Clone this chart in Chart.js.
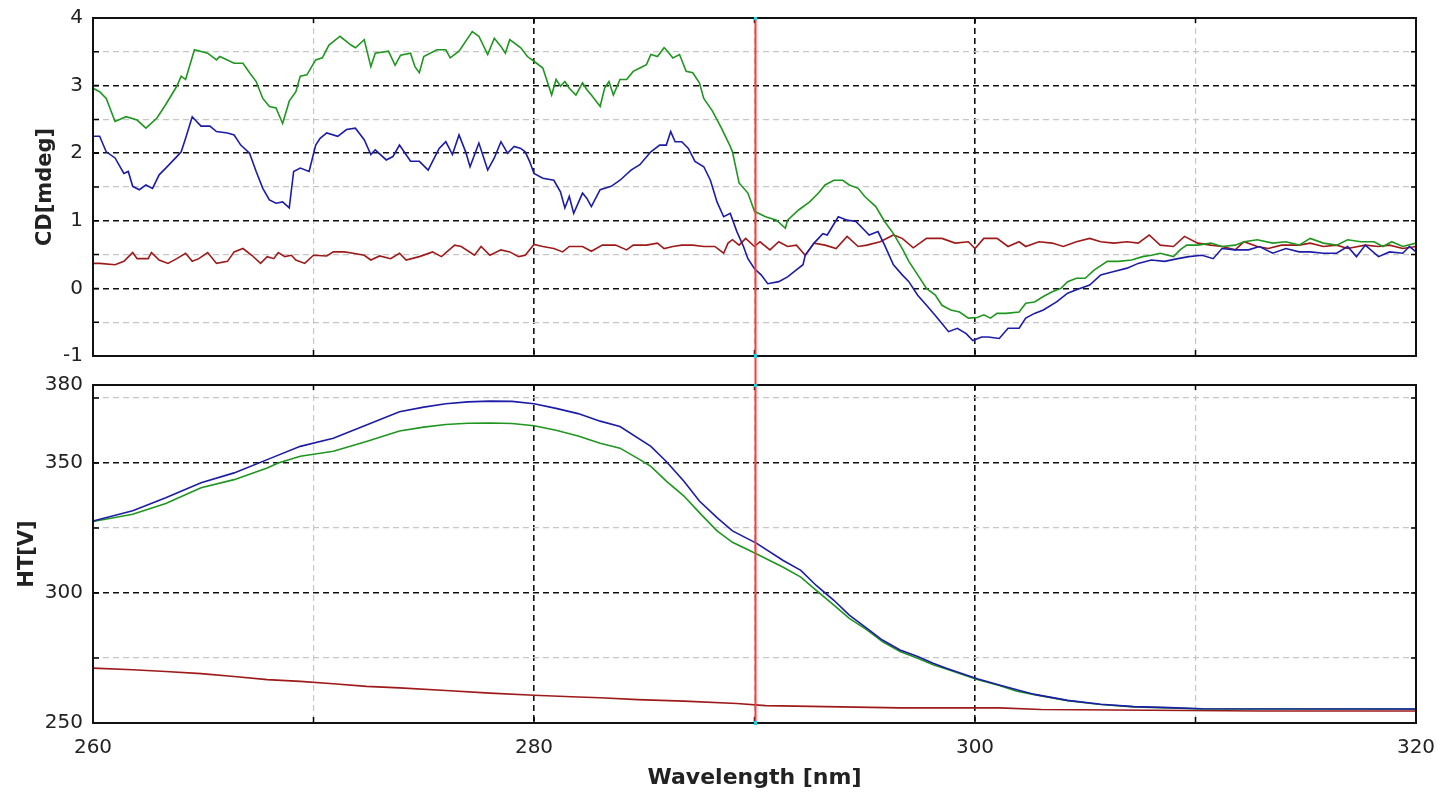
<!DOCTYPE html>
<html><head><meta charset="utf-8">
<script src="https://cdn.jsdelivr.net/npm/chart.js@4.4.1/dist/chart.umd.min.js"></script>
<style>
html,body{margin:0;padding:0;background:#fff;width:1438px;height:796px;overflow:hidden}
#wrapTop{position:absolute;left:0;top:0;width:1438px;height:370px}
#wrapBot{position:absolute;left:0;top:370px;width:1438px;height:426px}
</style></head><body>
<div id="wrapTop"><canvas id="cd"></canvas></div>
<div id="wrapBot"><canvas id="ht"></canvas></div>
<script>
// ---------- axis ticks ----------
const xTicks = [260,270,280,290,300,310,320];
const xLabels = [260,280,300,320];
const cdTicks = [-1,-0.5,0,0.5,1,1.5,2,2.5,3,3.5,4];
const cdLabels = [-1,0,1,2,3,4];
const htTicks = [250,275,300,325,350,375,380];
const htLabels = [250,300,350,380];
const cursorNm = 290;

// ---------- CD [mdeg] ----------
const cdGreenNm = [260.0,260.3,260.6,261.0,261.5,262.0,262.4,262.9,263.3,263.8,264.0,264.2,264.6,265.2,265.6,265.75,266.4,266.8,267.1,267.4,267.7,268.0,268.3,268.6,268.9,269.2,269.4,269.7,270.1,270.4,270.7,270.9,271.2,271.7,271.9,272.3,272.6,272.8,273.4,273.7,273.95,274.4,274.6,274.8,275.0,275.6,276.0,276.2,276.6,277.2,277.5,277.9,278.2,278.5,278.7,278.9,279.4,279.7,280.0,280.4,280.6,280.8,281.0,281.2,281.4,281.6,281.9,282.2,282.4,282.6,283.0,283.2,283.4,283.6,283.9,284.2,284.5,284.8,285.1,285.3,285.6,285.9,286.0,286.3,286.6,286.9,287.2,287.5,287.7,288.1,288.5,288.9,289.0,289.3,289.7,290.0,290.5,291.0,291.4,291.5,292.0,292.5,292.9,293.2,293.6,294.0,294.3,294.7,295.0,295.5,295.9,296.3,296.7,297.0,297.4,297.8,298.2,298.5,298.9,299.3,299.7,300.1,300.4,300.7,301.0,301.4,302.0,302.3,302.7,303.1,303.5,303.9,304.2,304.6,305.0,305.4,306.0,306.5,307.1,307.6,308.0,308.4,309.0,309.3,309.6,310.1,310.7,311.2,311.8,312.2,312.8,313.5,314.1,314.7,315.2,315.8,316.4,316.9,317.5,318.1,318.5,318.9,319.4,320.0];
const cdGreen = [2.96,2.91,2.81,2.47,2.54,2.49,2.37,2.52,2.72,2.99,3.14,3.09,3.53,3.48,3.38,3.43,3.33,3.33,3.19,3.06,2.81,2.69,2.67,2.44,2.77,2.91,3.14,3.16,3.38,3.41,3.60,3.65,3.73,3.60,3.56,3.68,3.28,3.48,3.51,3.30,3.45,3.48,3.28,3.19,3.43,3.53,3.53,3.41,3.51,3.80,3.73,3.46,3.70,3.58,3.48,3.68,3.56,3.43,3.36,3.26,3.06,2.86,3.09,2.99,3.06,2.96,2.86,3.04,2.94,2.86,2.69,2.96,3.06,2.86,3.09,3.09,3.21,3.26,3.31,3.46,3.43,3.56,3.53,3.41,3.46,3.21,3.19,3.04,2.81,2.62,2.37,2.10,2.02,1.56,1.41,1.14,1.06,1.01,0.89,1.01,1.16,1.28,1.41,1.53,1.60,1.60,1.53,1.48,1.36,1.21,0.99,0.81,0.59,0.40,0.20,0.00,-0.10,-0.25,-0.32,-0.35,-0.44,-0.43,-0.39,-0.44,-0.37,-0.37,-0.35,-0.22,-0.20,-0.12,-0.05,0.00,0.10,0.15,0.15,0.27,0.40,0.40,0.42,0.47,0.49,0.52,0.47,0.57,0.64,0.64,0.67,0.62,0.64,0.69,0.72,0.67,0.69,0.64,0.74,0.67,0.64,0.72,0.69,0.69,0.62,0.69,0.62,0.67];

const cdBlueNm = [260.0,260.3,260.6,261.0,261.4,261.6,261.8,262.1,262.4,262.7,263.0,263.3,263.8,264.0,264.2,264.5,264.7,264.9,265.3,265.6,266.1,266.4,266.7,267.1,267.4,267.7,268.0,268.3,268.6,268.9,269.1,269.4,269.8,270.1,270.3,270.6,271.1,271.5,271.9,272.3,272.6,272.8,273.3,273.6,273.9,274.4,274.8,275.2,275.4,275.7,276.0,276.3,276.6,276.9,277.1,277.5,277.9,278.2,278.5,278.8,279.1,279.4,279.6,279.8,280.0,280.4,280.9,281.2,281.4,281.6,281.8,282.2,282.4,282.6,283.0,283.5,283.9,284.4,284.8,285.3,285.7,286.0,286.2,286.4,286.7,287.0,287.3,287.7,288.0,288.3,288.6,288.9,289.2,289.5,289.7,290.0,290.3,290.6,291.1,291.5,292.0,292.2,292.3,292.7,293.1,293.3,293.8,294.2,294.6,294.9,295.2,295.6,295.9,296.3,296.7,297.0,297.4,297.8,298.2,298.5,298.8,299.2,299.6,299.9,300.3,300.6,301.1,301.5,302.0,302.3,302.7,303.1,303.7,304.2,304.6,305.2,305.7,306.3,306.9,307.4,308.0,308.6,309.2,309.7,310.3,310.8,311.2,311.8,312.4,312.9,313.5,314.1,314.7,315.2,315.8,316.4,316.9,317.3,317.7,318.3,318.8,319.4,319.7,320.0];
const cdBlue = [2.25,2.25,2.02,1.93,1.70,1.73,1.51,1.46,1.53,1.48,1.68,1.78,1.95,2.02,2.22,2.54,2.47,2.40,2.40,2.32,2.30,2.27,2.12,2.00,1.73,1.48,1.31,1.26,1.28,1.19,1.73,1.78,1.73,2.12,2.22,2.30,2.25,2.35,2.37,2.20,1.98,2.05,1.90,1.95,2.12,1.88,1.88,1.75,1.88,2.07,2.17,1.98,2.27,2.02,1.80,2.15,1.75,1.93,2.17,2.00,2.10,2.07,2.02,1.88,1.70,1.63,1.60,1.43,1.19,1.36,1.11,1.41,1.33,1.21,1.46,1.51,1.60,1.75,1.83,2.02,2.12,2.12,2.32,2.17,2.17,2.07,1.88,1.80,1.60,1.28,1.06,1.11,0.84,0.62,0.44,0.29,0.20,0.07,0.10,0.17,0.30,0.35,0.49,0.67,0.81,0.79,1.06,1.01,0.99,0.89,0.79,0.84,0.64,0.35,0.20,0.10,-0.10,-0.25,-0.40,-0.52,-0.64,-0.59,-0.67,-0.77,-0.72,-0.72,-0.74,-0.59,-0.59,-0.44,-0.37,-0.32,-0.20,-0.07,-0.02,0.05,0.20,0.25,0.30,0.37,0.42,0.40,0.44,0.47,0.49,0.44,0.59,0.57,0.57,0.62,0.52,0.59,0.54,0.54,0.52,0.52,0.62,0.47,0.64,0.47,0.54,0.52,0.62,0.54];

const cdRedNm = [260.0,260.3,261.0,261.4,261.8,262.0,262.5,262.65,263.0,263.4,263.8,264.2,264.5,264.8,265.2,265.6,266.1,266.4,266.8,267.2,267.6,267.9,268.2,268.4,268.7,269.0,269.2,269.6,270.0,270.6,270.9,271.4,271.8,272.3,272.6,273.0,273.5,273.9,274.2,274.8,275.4,275.8,276.4,276.7,277.3,277.6,278.0,278.5,278.9,279.3,279.6,280.0,280.4,280.9,281.3,281.6,282.2,282.6,283.1,283.7,284.2,284.5,285.1,285.6,285.9,286.3,286.7,287.2,287.7,288.2,288.6,288.8,289.0,289.3,289.6,290.0,290.25,290.7,291.1,291.5,291.9,292.3,292.7,293.2,293.7,294.2,294.7,295.1,295.7,296.3,296.7,297.2,297.8,298.5,299.1,299.7,300.0,300.4,301.0,301.5,302.0,302.3,302.9,303.5,304.0,304.6,305.2,305.7,306.3,306.9,307.4,307.9,308.4,309.0,309.5,310.1,310.7,311.2,311.8,312.2,312.8,313.3,313.9,314.7,315.2,315.8,316.4,316.9,317.7,318.3,318.8,319.4,320.0];
const cdRed = [0.37,0.37,0.35,0.40,0.53,0.44,0.44,0.53,0.42,0.37,0.44,0.52,0.40,0.44,0.53,0.37,0.40,0.54,0.59,0.49,0.37,0.47,0.44,0.53,0.47,0.49,0.42,0.37,0.49,0.48,0.54,0.54,0.52,0.49,0.42,0.48,0.44,0.52,0.42,0.47,0.54,0.47,0.64,0.62,0.49,0.62,0.49,0.57,0.54,0.47,0.49,0.65,0.62,0.59,0.54,0.62,0.62,0.55,0.64,0.64,0.57,0.64,0.64,0.67,0.59,0.62,0.64,0.64,0.62,0.62,0.52,0.67,0.72,0.64,0.74,0.62,0.69,0.57,0.69,0.62,0.64,0.49,0.67,0.64,0.59,0.77,0.62,0.64,0.69,0.79,0.74,0.60,0.74,0.74,0.67,0.69,0.59,0.74,0.74,0.62,0.69,0.62,0.69,0.67,0.62,0.69,0.74,0.69,0.67,0.69,0.67,0.79,0.64,0.62,0.77,0.67,0.64,0.62,0.57,0.69,0.62,0.59,0.64,0.64,0.67,0.62,0.64,0.59,0.64,0.62,0.64,0.59,0.62];

// ---------- HT [V] ----------
const htBlueNm = [260,261.8,263.3,264.9,266.4,267.9,269.4,270.9,272.4,273.9,275,276,277,278,279,280,281,282,283,283.9,285.3,286.0,286.8,287.5,288.3,289.0,290.1,291.3,292.1,292.8,293.6,294.3,295.1,295.8,296.6,297.4,298.1,298.7,300.1,301.1,302.7,304.2,305.7,307.2,308.8,310.3,320];
const htBlue = [327.7,331.6,336.6,342.4,346.2,351.3,356.4,359.5,364.6,369.7,371.5,372.8,373.5,373.8,373.7,372.8,371.0,369.0,366.1,364.0,356.4,350.6,343.0,335.4,329.0,323.9,319.1,312.5,308.7,302.9,297.2,291.5,286.4,281.9,278.1,275.6,273.0,271.1,267.0,264.6,261.0,258.7,257.2,256.3,255.9,255.5,255.4];
const htGreenNm = [260,261.8,263.3,264.9,266.4,267.9,268.4,269.4,270.9,272.4,273.9,275,276,277,278,279,280,281,282,283,283.9,284.8,285.3,286.0,286.8,287.5,288.3,289.0,290.1,291.3,292.1,292.8,293.6,294.3,295.1,295.8,296.6,297.4,298.1,298.8,300.1,301.1,301.9,302.7,304.2,305.7,307.2,308.8,310.3,320];
const htGreen = [327.5,330.3,334.4,340.5,343.6,348.1,350.0,352.6,354.5,358.3,362.3,363.8,364.8,365.3,365.4,365.2,364.3,362.6,360.4,357.6,355.7,351.3,348.7,343.0,337.3,330.9,323.9,319.5,315.0,309.9,306.1,301.0,295.3,290.2,285.8,281.3,277.5,274.9,272.4,270.5,266.7,264.4,262.2,260.9,258.6,257.1,256.2,255.8,255.4,255.4];
const htRedNm = [260,261.8,263.3,264.9,266.4,267.9,269.4,270.9,272.4,273.9,276,278,280,282,283,284.7,286.8,289.2,290.5,296.6,301.1,303,313,320];
const htRed = [271.1,270.5,269.8,269.0,267.9,266.7,266.0,265.1,264.1,263.5,262.5,261.5,260.7,260.0,259.7,259.0,258.4,257.5,256.7,255.8,255.8,255.2,254.6,254.6];

// ---------- styling ----------
const COL_GREEN = '#1f961f', COL_BLUE = '#1c1ca6', COL_RED = '#9e1a1a';
const TICK_FONT = {family:'DejaVu Sans', size:20};
const TITLE_FONT = {family:'DejaVu Sans', size:21, weight:'bold'};

function pts(xs, ys){ return xs.map((x,i)=>({x:x, y:ys[i]})); }
function ds(label, xs, ys, color){
  return {label, data: pts(xs,ys), borderColor: color, borderWidth: 1.6, pointRadius: 0, tension: 0, fill:false};
}
function gridColor(majorTest){
  return ctx => (ctx.tick && majorTest(ctx.tick.value)) ? '#111' : '#c6c6c6';
}
function gridWidth(majorTest){
  return ctx => (ctx.tick && majorTest(ctx.tick.value)) ? 1.6 : 1.2;
}
const isMajorX = v => Math.abs(v % 20) < 1e-6;
const isInt = v => Math.abs(v - Math.round(v)) < 1e-6;
const isMajorHT = v => v === 300 || v === 350;
function noPad(s){ s.paddingTop = 0; s.paddingBottom = 0; s.paddingLeft = 0; s.paddingRight = 0; }

function framePlugin(cursorTop, cursorBottom){
  return {
    id: 'frame',
    afterDatasetsDraw(chart){
      const {ctx, chartArea:a} = chart;
      const xs = chart.scales.x, ys = chart.scales.y;
      ctx.save();
      // inner tick marks
      ctx.strokeStyle = '#000'; ctx.lineWidth = 1.5;
      ctx.beginPath();
      xs.ticks.forEach(t => {
        const px = xs.getPixelForValue(t.value);
        ctx.moveTo(px, a.bottom); ctx.lineTo(px, a.bottom - 6);
        ctx.moveTo(px, a.top); ctx.lineTo(px, a.top + 5);
      });
      ys.ticks.forEach(t => {
        const py = ys.getPixelForValue(t.value);
        ctx.moveTo(a.left, py); ctx.lineTo(a.left + 6, py);
        ctx.moveTo(a.right, py); ctx.lineTo(a.right - 5, py);
      });
      ctx.stroke();
      // frame
      ctx.strokeStyle = '#111'; ctx.lineWidth = 2;
      ctx.strokeRect(a.left, a.top, a.right - a.left, a.bottom - a.top);
      // cursor line
      const cx = Math.round(xs.getPixelForValue(cursorNm)) + 0.5;
      const y0 = cursorTop === 'area' ? a.top : 0;
      const y1 = cursorBottom === 'area' ? a.bottom : chart.height;
      ctx.strokeStyle = '#ff3a3a'; ctx.lineWidth = 2;
      ctx.beginPath(); ctx.moveTo(cx, y0); ctx.lineTo(cx, y1); ctx.stroke();
      ctx.fillStyle = '#19d6e6';
      ctx.fillRect(cx - 1.5, a.top - 1, 3, 3);
      ctx.fillRect(cx - 1.5, a.bottom - 2, 3, 4);
      ctx.restore();
    }
  };
}

function xScale(showLabels){
  return {
    type: 'linear', min: 260, max: 320,
    afterBuildTicks: s => { s.ticks = xTicks.map(v => ({value: v})); },
    afterFit: s => { s.height = showLabels ? 73 : 14; noPad(s); },
    ticks: {
      display: showLabels, font: TICK_FONT, color: '#222', padding: 13, maxRotation: 0,
      callback: v => xLabels.includes(v) ? String(v) : ''
    },
    grid: { color: gridColor(isMajorX), lineWidth: gridWidth(isMajorX), drawTicks: false },
    border: { display: false, dash: [6,4] },
    title: showLabels ? { display: true, text: 'Wavelength [nm]', font: {family:'DejaVu Sans', size:22, weight:'bold'}, color:'#222', padding: {top:0, bottom:5} } : {display:false}
  };
}

Chart.defaults.animation = false;

new Chart(document.getElementById('cd'), {
  type: 'line',
  data: { datasets: [ ds('Sample 2', cdBlueNm, cdBlue, COL_BLUE), ds('Sample 1', cdGreenNm, cdGreen, COL_GREEN), ds('Buffer', cdRedNm, cdRed, COL_RED) ] },
  options: {
    responsive: true, maintainAspectRatio: false, animation: false,
    layout: { padding: { top: 18, right: 22, bottom: 0, left: 0 } },
    plugins: { legend: {display:false}, tooltip: {enabled:false} },
    scales: {
      x: xScale(false),
      y: {
        type: 'linear', min: -1, max: 4,
        afterBuildTicks: s => { s.ticks = cdTicks.map(v => ({value: v})); },
        afterFit: s => { s.width = 93; noPad(s); },
        ticks: { font: TICK_FONT, color: '#222', padding: 10, callback: v => cdLabels.includes(v) ? String(v) : '' },
        grid: { color: gridColor(isInt), lineWidth: gridWidth(isInt), drawTicks: false },
        border: { display: false, dash: [6,4] },
        title: { display: true, text: 'CD[mdeg]', font: TITLE_FONT, color: '#222', padding: {top: 33, bottom: 0} }
      }
    }
  },
  plugins: [framePlugin('area', 'canvas')]
});

new Chart(document.getElementById('ht'), {
  type: 'line',
  data: { datasets: [ ds('Sample 2', htBlueNm, htBlue, COL_BLUE), ds('Sample 1', htGreenNm, htGreen, COL_GREEN), ds('Buffer', htRedNm, htRed, COL_RED) ] },
  options: {
    responsive: true, maintainAspectRatio: false, animation: false,
    layout: { padding: { top: 15, right: 22, bottom: 0, left: 0 } },
    plugins: { legend: {display:false}, tooltip: {enabled:false} },
    scales: {
      x: xScale(true),
      y: {
        type: 'linear', min: 250, max: 380,
        afterBuildTicks: s => { s.ticks = htTicks.map(v => ({value: v})); },
        afterFit: s => { s.width = 93; noPad(s); },
        ticks: { font: TICK_FONT, color: '#222', padding: 10, callback: v => htLabels.includes(v) ? String(v) : '' },
        grid: { color: gridColor(isMajorHT), lineWidth: gridWidth(isMajorHT), drawTicks: false },
        border: { display: false, dash: [6,4] },
        title: { display: true, text: 'HT[V]', font: TITLE_FONT, color: '#222', padding: {top: 15, bottom: 0} }
      }
    }
  },
  plugins: [framePlugin('canvas', 'area')]
});
</script>
</body></html>
